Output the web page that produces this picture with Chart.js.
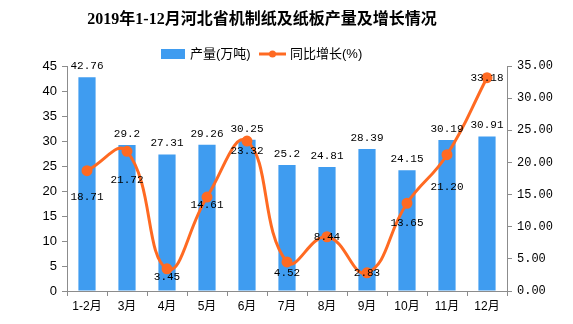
<!DOCTYPE html>
<html>
<head>
  <meta charset="UTF-8">
  <title>2019年1-12月河北省机制纸及纸板产量及增长情况</title>
  <script src="https://cdn.jsdelivr.net/npm/chart.js"></script>
  <style>
    body { margin: 0; background: #fff; }
    canvas { display: block; }
  </style>
</head>
<body>
  <canvas id="chart" width="573" height="324"></canvas>
  <script>
    const months = ['1-2月', '3月', '4月', '5月', '6月', '7月', '8月', '9月', '10月', '11月', '12月'];
    const output = [42.76, 29.2, 27.31, 29.26, 30.25, 25.2, 24.81, 28.39, 24.15, 30.19, 30.91];
    const growth = [18.71, 21.72, 3.45, 14.61, 23.32, 4.52, 8.44, 2.83, 13.65, 21.20, 33.18];

    const BLUE = '#3f9cf0', ORANGE = '#ff6a22', AXIS = '#8c8c8c';
    const monoFont = '"Liberation Mono", "DejaVu Sans Mono", monospace';
    const sansFont = '"Liberation Sans", "Noto Sans CJK SC", sans-serif';
    // 折线标签相对数据点向下的偏移
    const lineLabelShift = [26, 29, 8, 8, 10, 11, 0, 0, 20, 32, 0];

    const decor = {
      id: 'decor',
      afterDraw(chart) {
        const c = chart.ctx;
        c.save();
        c.fillStyle = '#000';
        c.textAlign = 'center';
        c.textBaseline = 'middle';
        c.font = 'bold 16px "Liberation Serif", "Noto Sans CJK SC", serif';
        c.fillText('2019年1-12月河北省机制纸及纸板产量及增长情况', 262, 20);

        // 图例
        c.font = '13px ' + sansFont;
        c.textAlign = 'left';
        c.fillStyle = BLUE;
        c.fillRect(161, 49, 24, 10);
        c.fillStyle = '#000';
        c.fillText('产量(万吨)', 190, 54);
        c.strokeStyle = ORANGE;
        c.lineWidth = 3;
        c.beginPath(); c.moveTo(259, 54); c.lineTo(286, 54); c.stroke();
        c.fillStyle = ORANGE;
        c.beginPath(); c.arc(272.5, 54, 3.5, 0, Math.PI * 2); c.fill();
        c.fillStyle = '#000';
        c.fillText('同比增长(%)', 290, 54);

        // 数据标签
        c.textAlign = 'center';
        c.font = '11px ' + monoFont;
        chart.getDatasetMeta(1).data.forEach((el, i) => {
          c.fillText(String(output[i]), el.x, el.y - 11);
        });
        chart.getDatasetMeta(0).data.forEach((el, i) => {
          c.fillText(growth[i].toFixed(2), el.x, el.y + lineLabelShift[i]);
        });
        c.restore();
      }
    };

    new Chart(document.getElementById('chart'), {
      data: {
        labels: months,
        datasets: [
          {
            type: 'line', label: '同比增长(%)', data: growth, yAxisID: 'y1',
            borderColor: ORANGE, backgroundColor: ORANGE, borderWidth: 3,
            pointRadius: 4, pointHoverRadius: 4, tension: 0.45, order: 0
          },
          {
            type: 'bar', label: '产量(万吨)', data: output, yAxisID: 'y',
            backgroundColor: BLUE, barPercentage: 0.43, categoryPercentage: 1, order: 1
          }
        ]
      },
      plugins: [decor],
      options: {
        responsive: false,
        animation: false,
        layout: { padding: { top: 66, left: 0, right: 0, bottom: 0 } },
        plugins: { legend: { display: false }, tooltip: { enabled: false }, title: { display: false } },
        scales: {
          x: {
            offset: true,
            grid: { offset: true, drawOnChartArea: false, tickLength: 5, color: AXIS },
            border: { color: AXIS },
            ticks: { color: '#000', padding: 3, font: { size: 12, family: sansFont }, maxRotation: 0 },
            afterFit(s) { s.height = 33; }
          },
          y: {
            position: 'left', min: 0, max: 45,
            grid: { drawOnChartArea: false, tickLength: 5, color: AXIS },
            border: { color: AXIS },
            ticks: { stepSize: 5, color: '#000', padding: 5, font: { size: 13, family: sansFont } },
            afterFit(s) { s.width = 67; }
          },
          y1: {
            position: 'right', min: 0, max: 35,
            grid: { drawOnChartArea: false, tickLength: 5, color: AXIS },
            border: { color: AXIS },
            ticks: { stepSize: 5, color: '#000', padding: 5, font: { size: 12, family: monoFont },
                     callback: v => v.toFixed(2) },
            afterFit(s) { s.width = 66; }
          }
        }
      }
    });
  </script>
</body>
</html>
